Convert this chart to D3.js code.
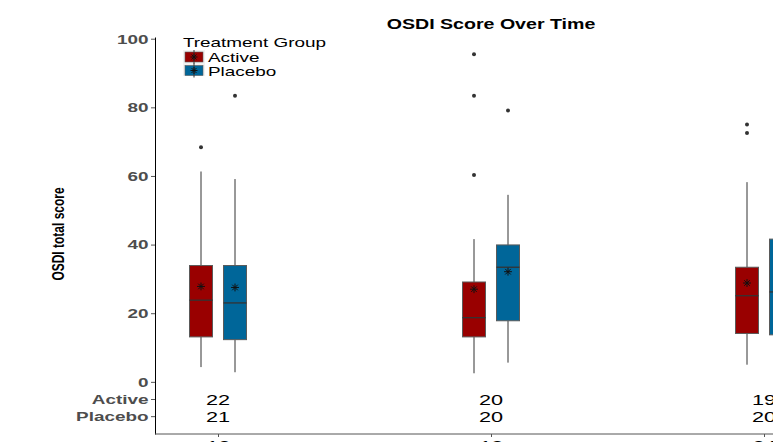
<!DOCTYPE html>
<html lang="en">
<head>
<meta charset="UTF-8">
<title>OSDI Score Over Time</title>
<script src="https://d3js.org/d3.v7.min.js"></script>
<style>
  body { margin: 0; background: #fff; }
  svg { display: block; font-family: "Liberation Sans", Arial, sans-serif; }
  .axis text { fill: #4d4d4d; font-weight: bold; font-size: 13.5px; }
  .axis line { stroke: #555; }
</style>
</head>
<body>
<svg id="chart" width="773" height="442"></svg>
<script>
// data
const timepoints = ["12", "18", "24"];
const groups = ["Active", "Placebo"];
const colors = ["#990000", "#006699"];

// [low whisker, Q1, median, Q3, high whisker]
const activeBoxes = [[4.3, 13.1, 23.8, 33.9, 61.3], [2.5, 13.1, 18.7, 29.1, 41.6], [5.0, 14.1, 25.1, 33.4, 58.2]];
const placeboBoxes = [[2.8, 12.3, 23.0, 33.9, 59.1], [5.6, 17.8, 33.4, 39.9, 54.5], [4.0, 13.7, 26.2, 41.6, 62.0]];
const activeMeans = [27.8, 27.0, 28.8];
const placeboMeans = [27.5, 32.1, 28.5];
const activeOutliers = [[68.4], [95.5, 83.4, 60.3], [75.0, 72.5]];
const placeboOutliers = [[83.4], [79.1], []];
const activeN = [22, 20, 19];
const placeboN = [21, 20, 20];
const yTicks = [0, 20, 40, 60, 80, 100];

const SX = 1.4; // horizontal stretch of the original image

const svg = d3.select("#chart");

const y = d3.scaleLinear().domain([-15.2, 100.5]).range([434, 37]);
const x = d3.scalePoint().domain(timepoints).range([218, 764]);
const dodge = d3.scalePoint().domain(groups).range([-17, 17]);
const boxW = 23;

// axes
const yAxis = svg.append("g")
    .attr("class", "axis")
    .attr("transform", "translate(155,0)")
    .call(d3.axisLeft(y)
        .tickValues([-10, -5].concat(yTicks))
        .tickFormat(d => d === -5 ? "Active" : d === -10 ? "Placebo" : d)
        .tickSize(4).tickSizeOuter(0));
yAxis.select(".domain").attr("stroke", "#000");
yAxis.selectAll("text")
    .attr("x", null)
    .attr("transform", `translate(-6.5,0) scale(${SX},1)`);

const xAxis = svg.append("g")
    .attr("class", "axis")
    .attr("transform", "translate(0,434)")
    .call(d3.axisBottom(x).tickSize(3).tickSizeOuter(0));
xAxis.select(".domain").attr("d", "M155,0H773").attr("stroke", "#555");
xAxis.selectAll("text")
    .style("font-weight", "normal").style("fill", "#000").style("font-size", "15px")
    .attr("transform", `scale(${SX},1)`);

// boxes
const all = [];
timepoints.forEach((t, i) => {
    all.push({ t, g: "Active", color: colors[0], box: activeBoxes[i], mean: activeMeans[i], out: activeOutliers[i] });
    all.push({ t, g: "Placebo", color: colors[1], box: placeboBoxes[i], mean: placeboMeans[i], out: placeboOutliers[i] });
});

const boxG = svg.selectAll(".box")
    .data(all)
    .enter().append("g")
    .attr("class", "box")
    .attr("transform", d => `translate(${x(d.t) + dodge(d.g)},0)`);

boxG.append("line")
    .attr("y1", d => y(d.box[0])).attr("y2", d => y(d.box[1]))
    .attr("stroke", "#333");
boxG.append("line")
    .attr("y1", d => y(d.box[3])).attr("y2", d => y(d.box[4]))
    .attr("stroke", "#333");
boxG.append("rect")
    .attr("x", -boxW / 2).attr("width", boxW)
    .attr("y", d => y(d.box[3]))
    .attr("height", d => y(d.box[1]) - y(d.box[3]))
    .attr("fill", d => d.color)
    .attr("stroke", "#5a5a5a");
boxG.append("line")
    .attr("x1", -boxW / 2).attr("x2", boxW / 2)
    .attr("y1", d => y(d.box[2])).attr("y2", d => y(d.box[2]))
    .attr("stroke", "#333").attr("stroke-width", 1.3);

// outliers
boxG.selectAll(".out")
    .data(d => d.out)
    .enter().append("circle")
    .attr("cx", 0).attr("cy", v => y(v))
    .attr("r", 2)
    .attr("fill", "#333");

// mean asterisks
const star = (g, s) => {
    g.append("path").attr("d", d3.symbol(d3.symbolPlus, s)).attr("stroke", "#111").attr("fill", "none");
    g.append("path").attr("d", d3.symbol(d3.symbolTimes, s)).attr("stroke", "#111").attr("fill", "none");
};
boxG.append("g")
    .attr("transform", d => `translate(0,${y(d.mean)})`)
    .call(star, 22);

// counts
const countRows = [activeN, placeboN];
countRows.forEach((row, r) => {
    svg.selectAll(".n" + r)
        .data(row)
        .enter().append("text")
        .attr("transform", (d, i) => `translate(${x(timepoints[i])},${y(r === 0 ? -5 : -10) + 5.5}) scale(${SX},1)`)
        .attr("text-anchor", "middle")
        .style("font-size", "15.5px")
        .attr("fill", "#000")
        .text(d => d);
});

// title
svg.append("text")
    .attr("transform", `translate(491,29) scale(${SX},1)`)
    .attr("text-anchor", "middle")
    .style("font-size", "14px").style("font-weight", "bold")
    .text("OSDI Score Over Time");

// y label
svg.append("text")
    .attr("transform", `translate(64,234) scale(${SX},1) rotate(-90)`)
    .attr("text-anchor", "middle")
    .style("font-size", "12px").style("font-weight", "bold")
    .text("OSDI total score");

// legend
const legend = svg.append("g").attr("transform", "translate(183,0)");
legend.append("text")
    .attr("transform", `translate(0,47) scale(${SX},1)`)
    .style("font-size", "13.5px")
    .text("Treatment Group");
legend.append("rect")
    .attr("x", 0).attr("y", 50).attr("width", 22).attr("height", 26)
    .attr("fill", "#f2f2f2");
const keys = legend.selectAll(".key")
    .data(groups)
    .enter().append("g")
    .attr("class", "key")
    .attr("transform", (d, i) => `translate(0,${57 + i * 13.5})`);
keys.append("rect")
    .attr("x", 2).attr("y", -5).attr("width", 18).attr("height", 10)
    .attr("fill", (d, i) => colors[i]).attr("stroke", "#5a5a5a").attr("stroke-width", 0.6);
keys.append("line")
    .attr("x1", 11).attr("x2", 11).attr("y1", -7).attr("y2", 7)
    .attr("stroke", "#333");
keys.append("g")
    .attr("transform", "translate(11,0)")
    .call(star, 18);
keys.append("text")
    .attr("transform", `translate(25,5) scale(${SX},1)`)
    .style("font-size", "13.5px")
    .text(d => d);
</script>
</body>
</html>
